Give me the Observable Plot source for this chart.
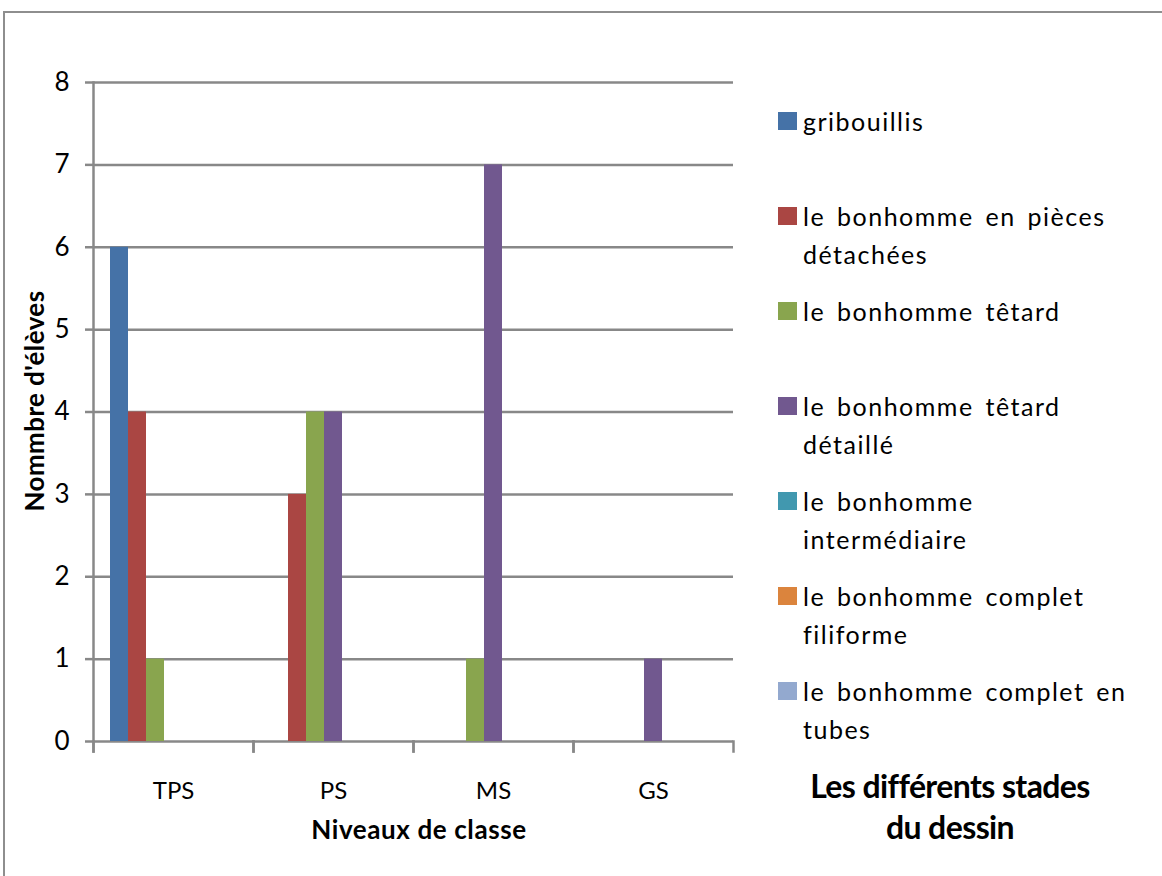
<!DOCTYPE html>
<html>
<head>
<meta charset="utf-8">
<script src="https://cdn.jsdelivr.net/npm/d3@7"></script>
<script src="https://cdn.jsdelivr.net/npm/@observablehq/plot@0.6"></script>
<style>
  html, body { margin: 0; padding: 0; background: #fff; overflow: hidden; }
  body { width: 1162px; height: 876px; position: relative; font-family: Lato, "Open Sans", sans-serif; color: #000; }
  #frame { position: absolute; left: 3px; top: 11px; width: 1200px; height: 900px; border-left: 2px solid #8e8e8e; border-top: 2px solid #8e8e8e; }
  #chart { position: absolute; left: 0; top: 0; }
  .ytitle { position: absolute; left: 34px; top: 401px; transform: translate(-50%, -50%) rotate(-90deg); font-weight: bold; font-size: 26px; letter-spacing: 0.4px; white-space: nowrap; }
  .xtitle { position: absolute; left: 419px; top: 829px; transform: translate(-50%, -50%); font-weight: bold; font-size: 26px; letter-spacing: 0.6px; white-space: nowrap; }
  #legend { position: absolute; left: 778px; top: 0; }
  .item { position: absolute; left: 0; display: flex; align-items: flex-start; }
  .sw { width: 19px; height: 18px; flex: none; }
  .lab { margin-left: 6px; font-size: 25px; line-height: 38px; white-space: pre; letter-spacing: 1.5px; word-spacing: 4px; margin-top: -10px; }
  .ltitle { position: absolute; left: 950px; top: 806px; transform: translate(-50%, -50%); text-align: center; font-weight: bold; font-size: 32px; line-height: 41px; white-space: pre; letter-spacing: -0.6px; }
</style>
</head>
<body>
<div id="frame"></div>
<div id="chart"></div>
<div class="ytitle">Nommbre d'élèves</div>
<div class="xtitle">Niveaux de classe</div>
<div id="legend"></div>
<div class="ltitle">Les différents stades
du dessin</div>
<script>
const categories = ["TPS", "PS", "MS", "GS"];
const seriesNames = [
  "gribouillis",
  "le bonhomme en pièces détachées",
  "le bonhomme têtard",
  "le bonhomme têtard détaillé",
  "le bonhomme intermédiaire",
  "le bonhomme complet filiforme",
  "le bonhomme complet en tubes"
];
const legendLabels = [
  "gribouillis",
  "le bonhomme en pièces\ndétachées",
  "le bonhomme têtard",
  "le bonhomme têtard\ndétaillé",
  "le bonhomme\nintermédiaire",
  "le bonhomme complet\nfiliforme",
  "le bonhomme complet en\ntubes"
];
const gribouillis       = [6, 0, 0, 0];
const piecesDetachees   = [4, 3, 0, 0];
const tetard            = [1, 4, 1, 0];
const tetardDetaille    = [0, 4, 7, 1];
const intermediaire     = [0, 0, 0, 0];
const completFiliforme  = [0, 0, 0, 0];
const completTubes      = [0, 0, 0, 0];
const seriesColors = ["#4572a7", "#aa4643", "#89a54e", "#71588f", "#4198af", "#db843d", "#93a9cf"];
const yTicks = [0, 1, 2, 3, 4, 5, 6, 7, 8];

const seriesValues = [gribouillis, piecesDetachees, tetard, tetardDetaille, intermediaire, completFiliforme, completTubes];
const rows = [];
seriesNames.forEach((s, j) => categories.forEach((c, i) => rows.push({cat: c, series: s, value: seriesValues[j][i]})));

const gridColor = "#888888";
const chart = Plot.plot({
  width: 740,
  height: 876,
  marginLeft: 93,
  marginRight: 7,
  marginTop: 82,
  marginBottom: 135,
  style: {fontFamily: "Lato, 'Open Sans', sans-serif", color: "#000", background: "transparent"},
  fx: {domain: categories, padding: 0, label: null},
  x: {domain: seriesNames, paddingInner: 0, paddingOuter: 0.82, axis: null},
  y: {domain: [0, 8], label: null},
  color: {domain: seriesNames, range: seriesColors},
  marks: [
    Plot.gridY(yTicks, {stroke: gridColor, strokeWidth: 2.5, strokeOpacity: 1}),
    Plot.barY(rows.filter(d => d.value > 0), {fx: "cat", x: "series", y: "value", fill: "series"}),
    Plot.axisY(yTicks, {tickSize: 8, tickPadding: 16, fontSize: 26, stroke: gridColor, strokeWidth: 2.5, label: null, tickFormat: d => String(d)}),
    Plot.axisFx({anchor: "bottom", tickSize: 0, tickPadding: 40, fontSize: 24, label: null}),
    Plot.frame({anchor: "left", facetAnchor: "left", stroke: gridColor, strokeWidth: 2.5, insetBottom: -10}),
    Plot.frame({anchor: "left", stroke: gridColor, strokeWidth: 2.5, insetTop: 659, insetBottom: -10}),
    Plot.frame({anchor: "right", stroke: gridColor, strokeWidth: 2.5, insetTop: 659, insetBottom: -10})
  ]
});
document.getElementById("chart").appendChild(chart);

const legend = document.getElementById("legend");
legendLabels.forEach((l, j) => {
  const it = document.createElement("div");
  it.className = "item";
  it.style.top = (112 + j * 95) + "px";
  const sw = document.createElement("div");
  sw.className = "sw";
  sw.style.background = seriesColors[j];
  const lab = document.createElement("div");
  lab.className = "lab";
  lab.textContent = l;
  it.appendChild(sw);
  it.appendChild(lab);
  legend.appendChild(it);
});
</script>
</body>
</html>
